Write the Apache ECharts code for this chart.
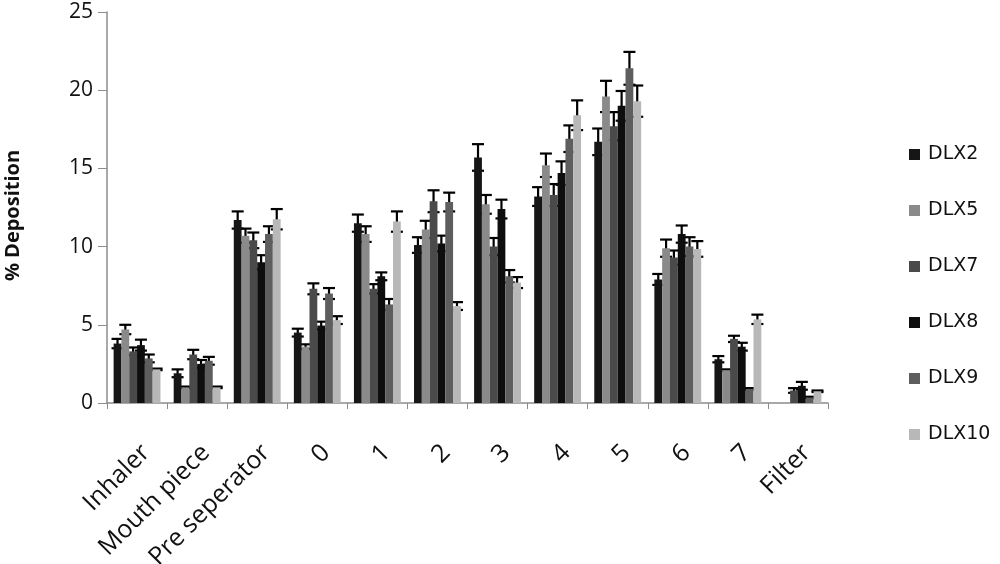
<!DOCTYPE html>
<html>
<head>
<meta charset="utf-8">
<script src="https://cdn.jsdelivr.net/npm/echarts@6/dist/echarts.min.js"></script>
<style>html,body{margin:0;padding:0;background:#fff}#c{width:1000px;height:564px}</style>
</head>
<body>
<div id="c"></div>
<script>
var categories = ["Inhaler", "Mouth piece", "Pre seperator", "0", "1", "2", "3", "4", "5", "6", "7", "Filter"];
var seriesNames = ["DLX2", "DLX5", "DLX7", "DLX8", "DLX9", "DLX10"];
var yTicks = [0, 5, 10, 15, 20, 25];

var dlx2  = [3.8, 1.9, 11.7, 4.5, 11.5, 10.1, 15.7, 13.2, 16.7, 7.9, 2.8, 0];
var dlx5  = [4.7, 1.0, 10.7, 3.6, 10.8, 11.1, 12.7, 15.2, 19.6, 9.9, 2.1, 0];
var dlx7  = [3.3, 3.1, 10.4, 7.3, 7.3, 12.9, 10.0, 13.3, 17.7, 9.3, 4.1, 0.8];
var dlx8  = [3.7, 2.5, 9.0, 4.95, 8.1, 10.2, 12.4, 14.7, 19.0, 10.8, 3.6, 1.1];
var dlx9  = [2.85, 2.7, 10.8, 7.0, 6.3, 12.85, 8.1, 16.9, 21.4, 10.0, 0.9, 0.35];
var dlx10 = [2.15, 1.0, 11.75, 5.3, 11.6, 6.2, 7.7, 18.4, 19.3, 9.85, 5.35, 0.75];

var err2  = [0.3, 0.25, 0.55, 0.25, 0.55, 0.5, 0.85, 0.6, 0.85, 0.35, 0.2, 0];
var err5  = [0.3, 0.05, 0.45, 0.15, 0.5, 0.55, 0.6, 0.75, 1.0, 0.55, 0.05, 0];
var err7  = [0.25, 0.3, 0.5, 0.35, 0.3, 0.7, 0.55, 0.7, 0.9, 0.45, 0.2, 0.15];
var err8  = [0.35, 0.25, 0.45, 0.25, 0.25, 0.5, 0.6, 0.75, 0.95, 0.55, 0.25, 0.25];
var err9  = [0.25, 0.25, 0.5, 0.35, 0.35, 0.6, 0.4, 0.85, 1.05, 0.6, 0.05, 0.05];
var err10 = [0.05, 0.05, 0.65, 0.25, 0.65, 0.25, 0.35, 0.95, 1.0, 0.5, 0.3, 0.05];

var values = [dlx2, dlx5, dlx7, dlx8, dlx9, dlx10];
var errors = [err2, err5, err7, err8, err9, err10];
var colors = ["#161616", "#8a8a8a", "#4a4a4a", "#0e0e0e", "#5e5e5e", "#b8b8b8"];

var CAT_GAP = 0.22;
var nS = seriesNames.length;

var errData = [];
for (var s = 0; s < nS; s++) {
  for (var c = 0; c < categories.length; c++) {
    if (errors[s][c] > 0 || values[s][c] > 0) {
      errData.push([c, s, values[s][c], errors[s][c]]);
    }
  }
}

var series = seriesNames.map(function (n, i) {
  return {
    name: n, type: 'bar', data: values[i],
    itemStyle: { color: colors[i] },
    barGap: '0%', barCategoryGap: (CAT_GAP * 100) + '%',
    animation: false
  };
});

series.push({
  type: 'custom',
  name: 'err',
  animation: false,
  silent: true,
  data: errData,
  encode: { x: 0, y: 2 },
  renderItem: function (params, api) {
    var c = api.value(0), s = api.value(1), v = api.value(2), e = api.value(3);
    var catW = api.size([1, 0])[0];
    var barW = catW * (1 - CAT_GAP) / nS;
    var center = api.coord([c, 0])[0];
    var x = center + (s - nS / 2 + 0.5) * barW;
    var yHi = api.coord([c, v + e])[1];
    var yLo = api.coord([c, v - e])[1];
    var half = 6;
    var st = { stroke: '#000', lineWidth: 2.2 };
    return {
      type: 'group',
      children: [
        { type: 'line', shape: { x1: x, y1: yHi, x2: x, y2: yLo }, style: st },
        { type: 'line', shape: { x1: x - half, y1: yHi, x2: x + half, y2: yHi }, style: st },
        { type: 'line', shape: { x1: x - half, y1: yLo, x2: x + half, y2: yLo }, style: st }
      ]
    };
  }
});

var chart = echarts.init(document.getElementById('c'), null, { renderer: 'canvas' });
chart.setOption({
  backgroundColor: '#fff',
  animation: false,
  grid: { left: 107, right: 172, top: 12, bottom: 161, containLabel: false, outerBoundsMode: 'none' },
  legend: {
    data: seriesNames,
    orient: 'vertical',
    left: 904, top: 140,
    itemWidth: 11, itemHeight: 11, itemGap: 37,
    icon: 'rect',
    textStyle: { fontFamily: 'DejaVu Sans, sans-serif', fontSize: 19, color: '#111', padding: [0, 0, 0, 3] }
  },
  xAxis: {
    type: 'category',
    data: categories,
    boundaryGap: true,
    axisLine: { lineStyle: { color: '#8c8c8c', width: 1.5 } },
    axisTick: { show: true, alignWithLabel: false, length: 6, lineStyle: { color: '#8c8c8c' } },
    axisLabel: {
      interval: 0, rotate: 45, margin: 37,
      verticalAlign: 'top',
      fontFamily: 'Open Sans, sans-serif', fontSize: 25, color: '#111'
    }
  },
  yAxis: {
    type: 'value',
    min: 0, max: 25, interval: 5,
    name: '% Deposition',
    nameLocation: 'middle',
    nameGap: 84,
    nameTextStyle: { fontFamily: 'Open Sans, sans-serif', fontWeight: 'bold', fontSize: 20, color: '#111', padding: [0, 16, 0, 0] },
    splitLine: { show: false },
    axisLine: { show: true, lineStyle: { color: '#8c8c8c', width: 1.5 } },
    axisTick: { show: true, length: 9, lineStyle: { color: '#8c8c8c' } },
    axisLabel: {
      margin: 14,
      fontFamily: 'Open Sans, sans-serif', fontSize: 21, color: '#111',
      formatter: function (v) { return yTicks.indexOf(v) >= 0 ? String(v) : ''; }
    }
  },
  series: series
});
</script>
</body>
</html>
